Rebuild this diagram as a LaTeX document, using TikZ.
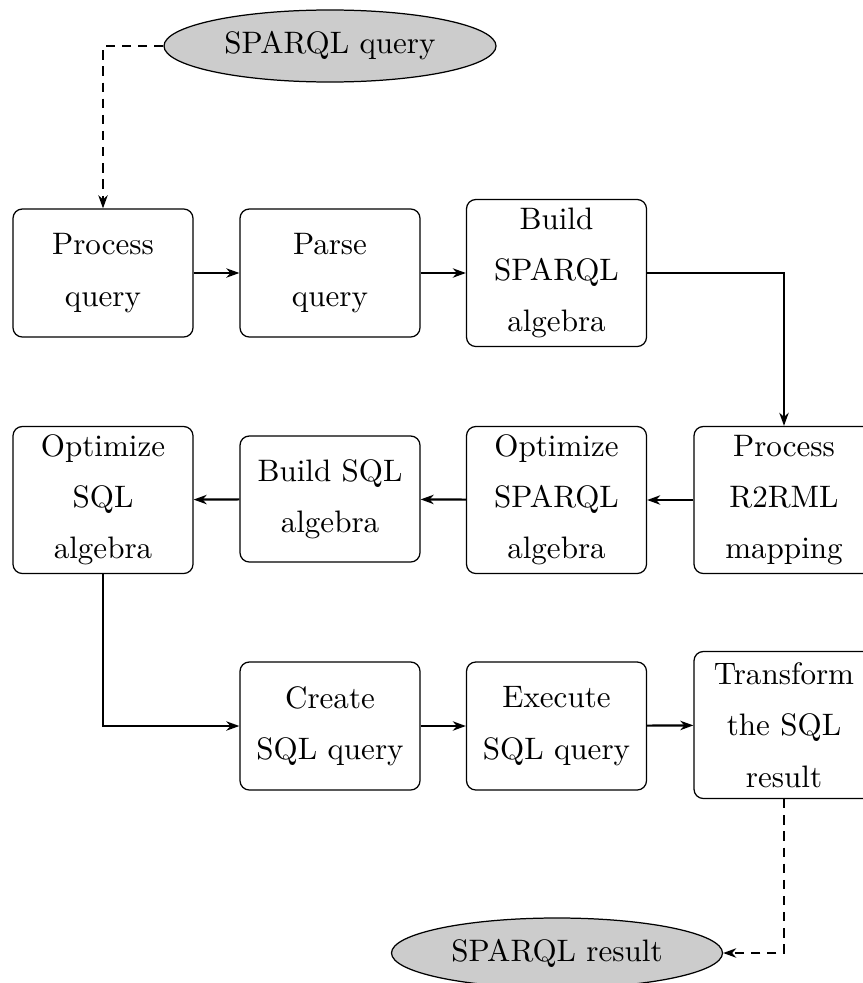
\documentclass[tikz,border=0pt]{standalone}
\usetikzlibrary{arrows.meta,shapes.geometric}
\begin{document}
\begin{tikzpicture}[x=0.322pt,y=-0.322pt,
  stepbox/.style={draw,rounded corners=3pt,line width=0.4pt,align=center,
    minimum width=180*0.322pt,inner sep=2pt,
    font=\fontsize{10}{16.5}\selectfont},
  twoline/.style={stepbox,minimum height=128*0.322pt},
  threeline/.style={stepbox,minimum height=147*0.322pt},
  datanode/.style={ellipse,draw,fill=gray!40,line width=0.4pt,inner sep=0pt,
    font=\fontsize{10}{12}\selectfont},
  flow/.style={line width=0.7pt,-{Stealth[length=4.2pt,width=3pt,inset=1.3pt]}},
  dashedflow/.style={flow,dash pattern=on 3pt off 2.2pt}]
\useasboundingbox (0,0) rectangle (863,983);
\clip (0,0) rectangle (863,983);

% input and output
\node[datanode,minimum width=332*0.322pt,minimum height=72*0.322pt] (query) at (330,46) {SPARQL query};
\node[datanode,minimum width=331*0.322pt,minimum height=70*0.322pt] (result) at (557,953) {SPARQL result};

% first row
\node[twoline] (procq) at (103,273) {Process\\query};
\node[twoline] (parse) at (330,273) {Parse\\query};
\node[threeline] (buildsparql) at (556.5,273) {Build\\SPARQL\\algebra};

% second row (right to left)
\node[threeline] (r2rml) at (784,500) {Process\\R2RML\\mapping};
\node[threeline] (optsparql) at (556.5,500) {Optimize\\SPARQL\\algebra};
\node[stepbox,minimum height=126*0.322pt] (buildsql) at (330,499) {Build SQL\\algebra};
\node[threeline] (optsql) at (103,500) {Optimize\\SQL\\algebra};

% third row
\node[twoline] (create) at (330,726) {Create\\SQL query};
\node[twoline] (execute) at (556.5,726) {Execute\\SQL query};
\node[threeline] (transform) at (784,725) {Transform\\the SQL\\result};

% connectors
\draw[dashedflow] (query.west) -| (procq.north);
\draw[flow] (procq) -- (parse);
\draw[flow] (parse) -- (buildsparql);
\draw[flow] (buildsparql.east) -| (r2rml.north);
\draw[flow] (r2rml) -- (optsparql);
\draw[flow] (optsparql) -- (buildsql);
\draw[flow] (buildsql) -- (optsql);
\draw[flow] (optsql.south) |- (create.west);
\draw[flow] (create) -- (execute);
\draw[flow] (execute) -- (transform);
\draw[dashedflow] (transform.south) |- (result.east);
\end{tikzpicture}
\end{document}
